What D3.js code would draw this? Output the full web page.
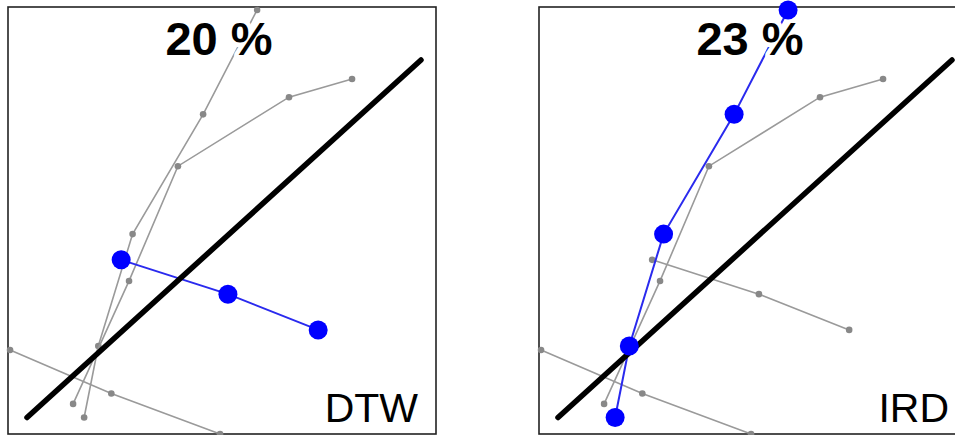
<!DOCTYPE html>
<html>
<head>
<meta charset="utf-8">
<script src="https://cdn.jsdelivr.net/npm/d3@7"></script>
<style>
  html, body { margin: 0; padding: 0; background: #fff; }
  svg { display: block; }
</style>
</head>
<body>
<svg id="chart" width="955" height="435"></svg>
<script>
// ---- data (unit space: diagonal runs from (0,0) to (1,1)) ----
const trajA_x = [0.584, 0.447, 0.268, 0.181, 0.145];
const trajA_y = [1.140, 0.848, 0.513, 0.200, 0.000];
const trajB_x = [0.239, 0.510, 0.739];
const trajB_y = [0.441, 0.345, 0.245];
const trajC_x = [0.825, 0.665, 0.383, 0.259, 0.117];
const trajC_y = [0.947, 0.896, 0.703, 0.382, 0.038];
const trajD_x = [-0.043, 0.214, 0.490];
const trajD_y = [0.189, 0.067, -0.046];
const diag_x = [0, 1];
const diag_y = [0, 1];

const methods = ["DTW", "IRD"];
const scores = ["20 %", "23 %"];
const highlighted = [1, 0]; // index of trajectory shown in blue per panel

const zip = (xs, ys) => xs.map((x, i) => [x, ys[i]]);
const trajectories = [
  zip(trajA_x, trajA_y),
  zip(trajB_x, trajB_y),
  zip(trajC_x, trajC_y),
  zip(trajD_x, trajD_y)
];
const diagonal = zip(diag_x, diag_y);

// ---- layout ----
const svg = d3.select("#chart");
const panelW = 428, panelH = 427;
const panelX = [8, 539], panelY = 7;

const x = d3.scaleLinear().domain([0, 1]).range([19, 413]);
const y = d3.scaleLinear().domain([0, 1]).range([410.5, 53]);
const line = d3.line().x(d => x(d[0])).y(d => y(d[1]));

methods.forEach((m, pi) => {
  const g = svg.append("g").attr("transform", `translate(${panelX[pi]},${panelY})`);

  g.append("rect")
    .attr("x", 0).attr("y", 0)
    .attr("width", panelW).attr("height", panelH)
    .attr("fill", "#fff")
    .attr("stroke", "#222").attr("stroke-width", 1.6);

  // gray trajectories
  trajectories.forEach((t, ti) => {
    if (ti === highlighted[pi]) return;
    g.append("path").datum(t).attr("d", line)
      .attr("fill", "none").attr("stroke", "#9a9a9a").attr("stroke-width", 1.6);
    g.selectAll(null).data(t).enter().append("circle")
      .attr("cx", d => x(d[0])).attr("cy", d => y(d[1])).attr("r", 3.3)
      .attr("fill", "#888");
  });

  // highlighted trajectory line
  const h = trajectories[highlighted[pi]];
  g.append("path").datum(h).attr("d", line)
    .attr("fill", "none").attr("stroke", "#2a2aee").attr("stroke-width", 2);

  // title score (white halo hides lines behind it)
  g.append("text")
    .attr("x", 211).attr("y", 48)
    .attr("text-anchor", "middle")
    .attr("font-family", "'Liberation Sans', Arial, sans-serif")
    .attr("font-weight", "bold").attr("font-size", 47)
    .attr("fill", "#000")
    .attr("stroke", "#fff").attr("stroke-width", 9)
    .attr("stroke-linejoin", "round")
    .attr("paint-order", "stroke")
    .text(scores[pi]);

  // diagonal
  g.append("path").datum(diagonal).attr("d", line)
    .attr("fill", "none").attr("stroke", "#000").attr("stroke-width", 5.5)
    .attr("stroke-linecap", "round");

  // highlighted dots
  g.selectAll(null).data(h).enter().append("circle")
    .attr("cx", d => x(d[0])).attr("cy", d => y(d[1])).attr("r", 9.5)
    .attr("fill", "#0000ff");

  // method label
  g.append("text")
    .attr("x", 410).attr("y", 415)
    .attr("text-anchor", "end")
    .attr("font-family", "'Liberation Sans', Arial, sans-serif")
    .attr("font-size", 41)
    .attr("fill", "#000")
    .text(m);
});
</script>
</body>
</html>
